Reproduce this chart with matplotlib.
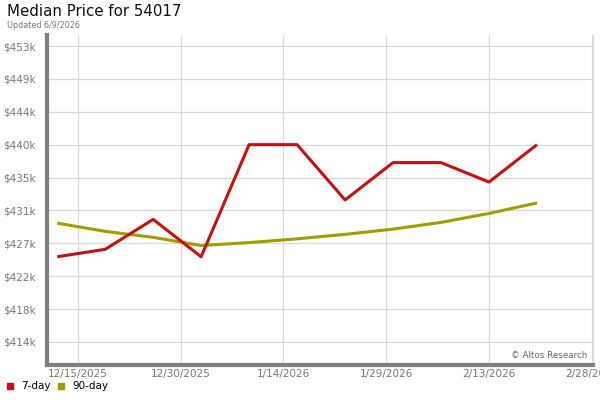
import matplotlib
matplotlib.use("Agg")
import matplotlib.pyplot as plt
import matplotlib.dates as mdates
import numpy as np
import datetime as dt

dates = ["2025-12-12", "2025-12-19", "2025-12-26", "2026-01-02", "2026-01-09",
         "2026-01-16", "2026-01-23", "2026-01-30", "2026-02-06", "2026-02-13", "2026-02-20"]
price_7day = [425.0, 426.0, 430.0, 425.0, 440.0, 440.0, 432.6, 437.6, 437.6, 435.0, 440.0]
price_90day = [429.5, 428.4, 427.6, 426.5, 426.9, 427.4, 428.0, 428.7, 429.6, 430.8, 432.2]
ytick_values = [413.6, 418.0, 422.4, 426.8, 431.2, 435.6, 440.0, 444.4, 448.8, 453.2]
ytick_labels = ["$414k", "$418k", "$422k", "$427k", "$431k", "$435k", "$440k", "$444k", "$449k", "$453k"]
xtick_dates = ["2025-12-15", "2025-12-30", "2026-01-14", "2026-01-29", "2026-02-13", "2026-02-28"]
xtick_labels = ["12/15/2025", "12/30/2025", "1/14/2026", "1/29/2026", "2/13/2026", "2/28/2026"]

plt.rcParams['font.family'] = ['DejaVu Sans']

x = [mdates.date2num(dt.date.fromisoformat(d)) for d in dates]
xt = [mdates.date2num(dt.date.fromisoformat(d)) for d in xtick_dates]

fig = plt.figure(figsize=(6, 4), dpi=100)
ax = fig.add_axes([0.078, 0.0875, 0.91, 0.825])

red = "#c8100f"
olive = "#a39d00"
ax.plot(x, price_90day, color=olive, lw=2.2, solid_capstyle='butt', zorder=3)
ax.plot(x, price_7day, color=red, lw=2.2, solid_capstyle='butt', zorder=4)

ppd = (592 - 78) / 75.0
ax.set_xlim(xt[0] - (78 - 47) / ppd, xt[-1] + (593 - 592) / ppd)
ppk = 32.85 / 4.4
ax.set_ylim(413.6 - (365 - 342) / ppk, 453.2 + (46 - 35) / ppk)

ax.set_yticks(ytick_values)
ax.set_yticklabels(ytick_labels)
ax.set_xticks(xt)
ax.set_xticklabels(xtick_labels)

ax.grid(True, color="#d9d9d9", lw=0.9)
ax.set_axisbelow(True)
ax.tick_params(axis='both', colors="#d9d9d9", labelcolor="#777777", labelsize=7.5, length=4)
ax.tick_params(axis='y', direction='in', pad=8)
ax.tick_params(axis='x', direction='in', pad=3)

ax.spines["top"].set_visible(False)
ax.spines["right"].set_color("#d9d9d9")
ax.spines["right"].set_linewidth(0.9)
for s in ["left", "bottom"]:
    ax.spines[s].set_color("#808080")
    ax.spines[s].set_linewidth(3)

ax.text(0.99, 0.03, "\u00a9 Altos Research", transform=ax.transAxes, ha='right', va='center',
        fontsize=6.3, color="#666666")

fig.text(7 / 600, 1 - 12 / 400, "Median Price for 54017", fontsize=10.8, color="#111111",
         ha='left', va='center')
fig.text(7 / 600, 1 - 25 / 400, "Updated 6/9/2026", fontsize=5.8, color="#777777",
         ha='left', va='center')

# legend
fig.patches.append(plt.Rectangle((7 / 600, 1 - 389 / 400), 6 / 600, 6 / 400,
                                 transform=fig.transFigure, color=red))
fig.text(21 / 600, 1 - 386 / 400, "7-day", fontsize=7.5, ha='left', va='center')
fig.patches.append(plt.Rectangle((58 / 600, 1 - 389 / 400), 6 / 600, 6 / 400,
                                 transform=fig.transFigure, color=olive))
fig.text(72 / 600, 1 - 386 / 400, "90-day", fontsize=7.5, ha='left', va='center')

fig.savefig("out.png", dpi=100)
